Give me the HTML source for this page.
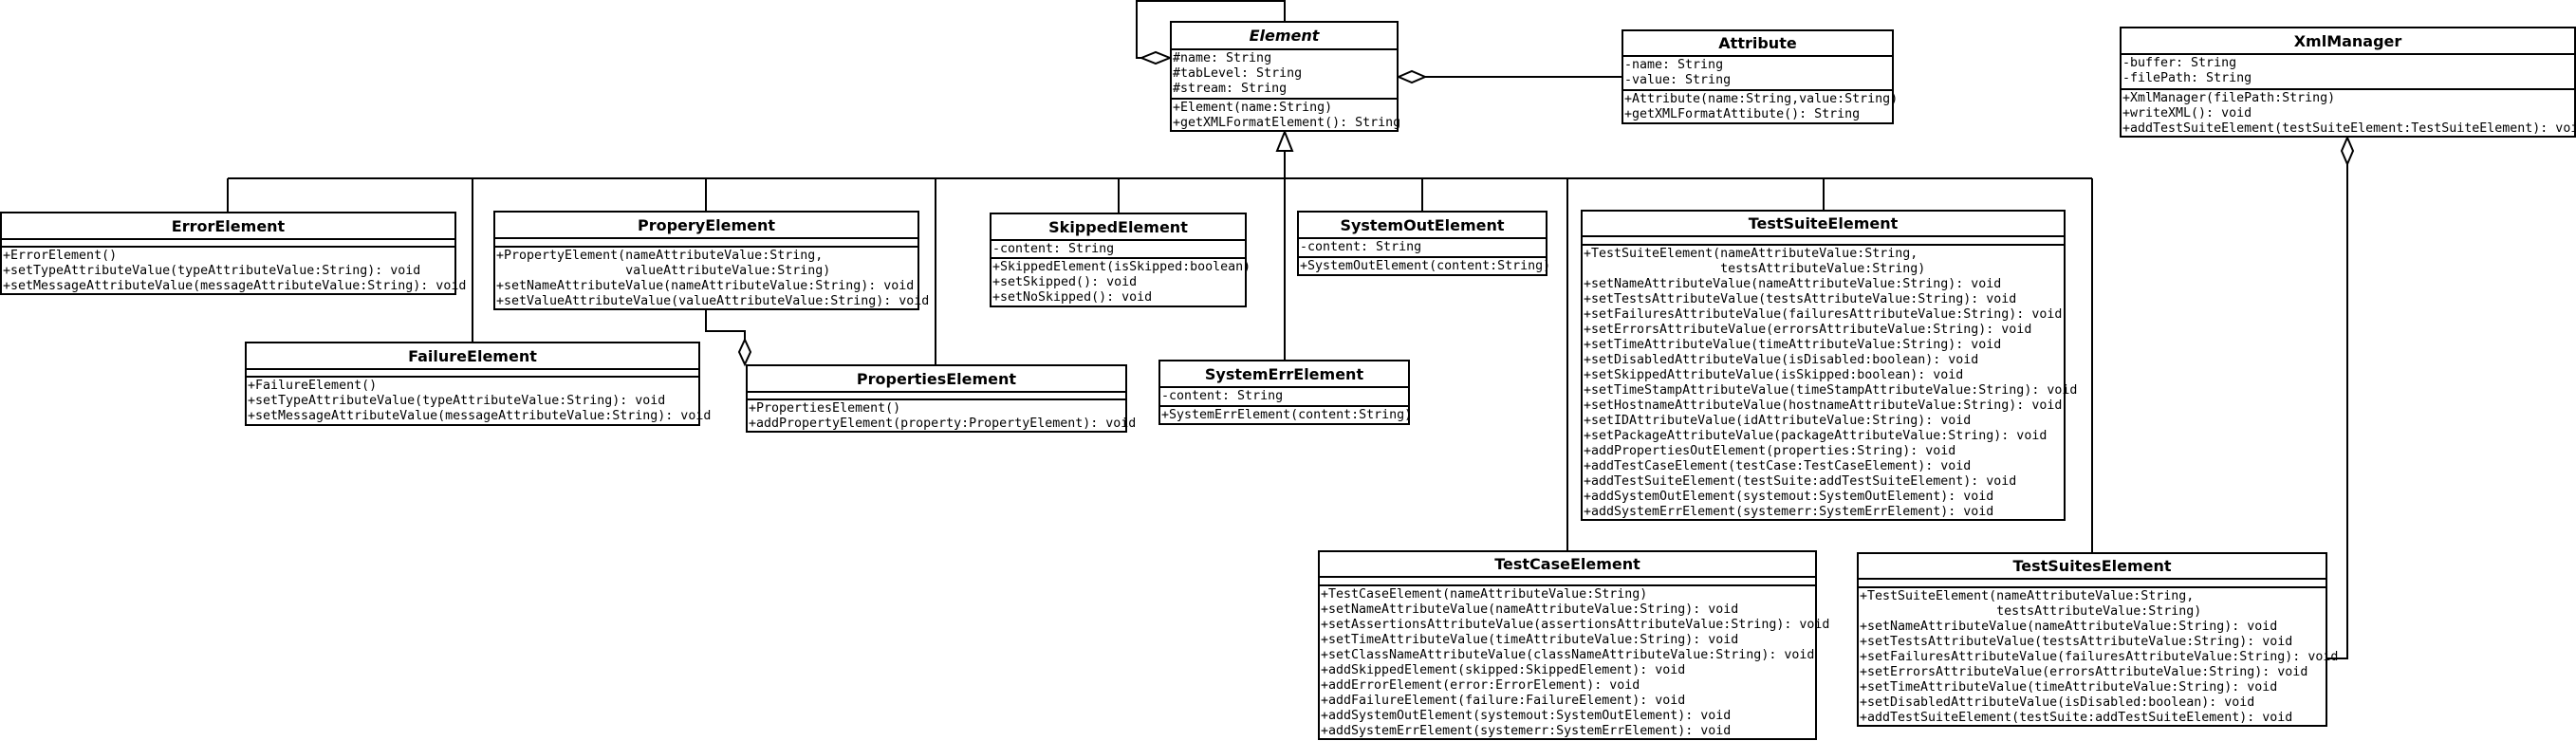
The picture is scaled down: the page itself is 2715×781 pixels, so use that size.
<!DOCTYPE html>
<html><head><meta charset="utf-8"><style>
body{margin:0;width:2715px;height:781px;background:#fff;position:relative;overflow:hidden}
.b{position:absolute;border:2px solid #000;background:#fff;box-sizing:border-box}
.t{font:bold 16px "DejaVu Sans","Liberation Sans",sans-serif;text-align:center;border-bottom:2px solid #000;box-sizing:border-box;display:flex;align-items:center;justify-content:center}
.c{font:13.3px "DejaVu Sans Mono","Liberation Mono",monospace;line-height:16px;white-space:pre;border-bottom:2px solid #000;box-sizing:border-box;padding:1px 0 0 1px;overflow:visible}
.l{border-bottom:none}
svg{position:absolute;left:0;top:0}
</style></head><body>
<svg width="2715" height="781" fill="none" stroke="#000" stroke-width="2">
<polyline points="1354,22 1354,1 1198,1 1198,61 1203,61"/>
<polygon points="1203,61 1218,55 1233,61 1218,67" fill="#fff"/>
<line x1="1502" y1="81" x2="1709" y2="81"/>
<polygon points="1474,81 1488,75 1502,81 1488,87" fill="#fff"/>
<polygon points="1354,139 1346,159 1362,159" fill="#fff"/>
<line x1="1354" y1="159" x2="1354" y2="379"/>
<line x1="240" y1="188" x2="2205" y2="188"/>
<line x1="240" y1="188" x2="240" y2="223"/>
<line x1="498" y1="188" x2="498" y2="360"/>
<line x1="744" y1="188" x2="744" y2="222"/>
<line x1="986" y1="188" x2="986" y2="384"/>
<line x1="1179" y1="188" x2="1179" y2="224"/>
<line x1="1499" y1="188" x2="1499" y2="222"/>
<line x1="1652" y1="188" x2="1652" y2="580"/>
<line x1="1922" y1="188" x2="1922" y2="221"/>
<line x1="2205" y1="188" x2="2205" y2="582"/>
<polyline points="744,327 744,349 785,349 785,358"/>
<polygon points="785,358 791,371 785,384 779,371" fill="#fff"/>
<polygon points="2474,145 2480,159 2474,173 2468,159" fill="#fff"/>
<polyline points="2474,173 2474,694 2453,694"/>
</svg>

<div class="b" style="left:1233px;top:22px;width:241px;height:117px">
<div class="t" style="height:29px;font-style:italic">Element</div>
<div class="c" style="height:52px">#name: String
#tabLevel: String
#stream: String</div>
<div class="c l">+Element(name:String)
+getXMLFormatElement(): String</div></div>

<div class="b" style="left:1709px;top:31px;width:287px;height:100px">
<div class="t" style="height:27px">Attribute</div>
<div class="c" style="height:36px">-name: String
-value: String</div>
<div class="c l">+Attribute(name:String,value:String)
+getXMLFormatAttibute(): String</div></div>

<div class="b" style="left:0px;top:223px;width:481px;height:88px">
<div class="t" style="height:28px">ErrorElement</div>
<div class="c" style="height:8px"></div>
<div class="c l">+ErrorElement()
+setTypeAttributeValue(typeAttributeValue:String): void
+setMessageAttributeValue(messageAttributeValue:String): void</div></div>

<div class="b" style="left:520px;top:222px;width:449px;height:105px">
<div class="t" style="height:28px">ProperyElement</div>
<div class="c" style="height:9px"></div>
<div class="c l">+PropertyElement(nameAttributeValue:String,
                 valueAttributeValue:String)
+setNameAttributeValue(nameAttributeValue:String): void
+setValueAttributeValue(valueAttributeValue:String): void</div></div>

<div class="b" style="left:258px;top:360px;width:480px;height:89px">
<div class="t" style="height:28px">FailureElement</div>
<div class="c" style="height:8px"></div>
<div class="c l">+FailureElement()
+setTypeAttributeValue(typeAttributeValue:String): void
+setMessageAttributeValue(messageAttributeValue:String): void</div></div>

<div class="b" style="left:786px;top:384px;width:402px;height:72px">
<div class="t" style="height:28px">PropertiesElement</div>
<div class="c" style="height:8px"></div>
<div class="c l">+PropertiesElement()
+addPropertyElement(property:PropertyElement): void</div></div>

<div class="b" style="left:1043px;top:224px;width:271px;height:100px">
<div class="t" style="height:28px">SkippedElement</div>
<div class="c" style="height:19px">-content: String</div>
<div class="c l">+SkippedElement(isSkipped:boolean)
+setSkipped(): void
+setNoSkipped(): void</div></div>

<div class="b" style="left:1367px;top:222px;width:264px;height:69px">
<div class="t" style="height:28px">SystemOutElement</div>
<div class="c" style="height:20px">-content: String</div>
<div class="c l">+SystemOutElement(content:String)</div></div>

<div class="b" style="left:1221px;top:379px;width:265px;height:69px">
<div class="t" style="height:28px">SystemErrElement</div>
<div class="c" style="height:20px">-content: String</div>
<div class="c l">+SystemErrElement(content:String)</div></div>

<div class="b" style="left:1666px;top:221px;width:511px;height:328px">
<div class="t" style="height:27px">TestSuiteElement</div>
<div class="c" style="height:9px"></div>
<div class="c l">+TestSuiteElement(nameAttributeValue:String,
                  testsAttributeValue:String)
+setNameAttributeValue(nameAttributeValue:String): void
+setTestsAttributeValue(testsAttributeValue:String): void
+setFailuresAttributeValue(failuresAttributeValue:String): void
+setErrorsAttributeValue(errorsAttributeValue:String): void
+setTimeAttributeValue(timeAttributeValue:String): void
+setDisabledAttributeValue(isDisabled:boolean): void
+setSkippedAttributeValue(isSkipped:boolean): void
+setTimeStampAttributeValue(timeStampAttributeValue:String): void
+setHostnameAttributeValue(hostnameAttributeValue:String): void
+setIDAttributeValue(idAttributeValue:String): void
+setPackageAttributeValue(packageAttributeValue:String): void
+addPropertiesOutElement(properties:String): void
+addTestCaseElement(testCase:TestCaseElement): void
+addTestSuiteElement(testSuite:addTestSuiteElement): void
+addSystemOutElement(systemout:SystemOutElement): void
+addSystemErrElement(systemerr:SystemErrElement): void</div></div>

<div class="b" style="left:1389px;top:580px;width:526px;height:200px">
<div class="t" style="height:27px">TestCaseElement</div>
<div class="c" style="height:9px"></div>
<div class="c l">+TestCaseElement(nameAttributeValue:String)
+setNameAttributeValue(nameAttributeValue:String): void
+setAssertionsAttributeValue(assertionsAttributeValue:String): void
+setTimeAttributeValue(timeAttributeValue:String): void
+setClassNameAttributeValue(classNameAttributeValue:String): void
+addSkippedElement(skipped:SkippedElement): void
+addErrorElement(error:ErrorElement): void
+addFailureElement(failure:FailureElement): void
+addSystemOutElement(systemout:SystemOutElement): void
+addSystemErrElement(systemerr:SystemErrElement): void</div></div>

<div class="b" style="left:1957px;top:582px;width:496px;height:184px">
<div class="t" style="height:27px">TestSuitesElement</div>
<div class="c" style="height:9px"></div>
<div class="c l">+TestSuiteElement(nameAttributeValue:String,
                  testsAttributeValue:String)
+setNameAttributeValue(nameAttributeValue:String): void
+setTestsAttributeValue(testsAttributeValue:String): void
+setFailuresAttributeValue(failuresAttributeValue:String): void
+setErrorsAttributeValue(errorsAttributeValue:String): void
+setTimeAttributeValue(timeAttributeValue:String): void
+setDisabledAttributeValue(isDisabled:boolean): void
+addTestSuiteElement(testSuite:addTestSuiteElement): void</div></div>

<div class="b" style="left:2234px;top:28px;width:481px;height:117px">
<div class="t" style="height:28px">XmlManager</div>
<div class="c" style="height:37px">-buffer: String
-filePath: String</div>
<div class="c l">+XmlManager(filePath:String)
+writeXML(): void
+addTestSuiteElement(testSuiteElement:TestSuiteElement): void</div></div>
</body></html>
